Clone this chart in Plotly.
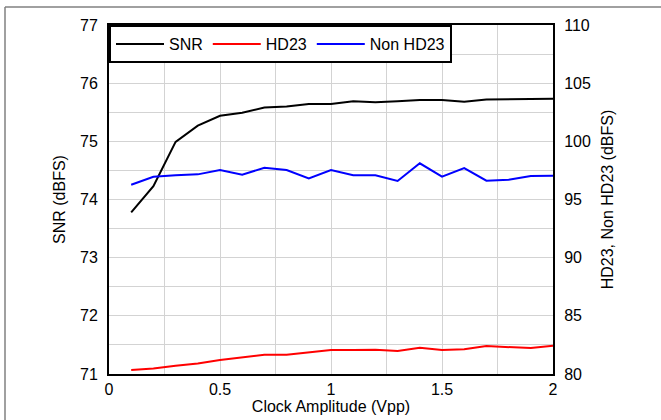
import plotly.graph_objects as go

clock_vpp = [0.1, 0.2, 0.3, 0.4, 0.5, 0.6, 0.7, 0.8, 0.9, 1.0,
             1.1, 1.2, 1.3, 1.4, 1.5, 1.6, 1.7, 1.8, 1.9, 2.0]
snr = [73.78, 74.23, 74.99, 75.27, 75.44, 75.49, 75.58, 75.60, 75.64, 75.64,
       75.69, 75.67, 75.69, 75.71, 75.71, 75.68, 75.72, 75.72, 75.73, 75.73]
hd23 = [80.34, 80.48, 80.70, 80.90, 81.20, 81.43, 81.65, 81.65, 81.86, 82.06,
        82.06, 82.09, 81.97, 82.25, 82.06, 82.12, 82.40, 82.34, 82.23, 82.43]
non_hd23 = [96.27, 96.96, 97.08, 97.16, 97.53, 97.13, 97.73, 97.53, 96.82, 97.53,
            97.08, 97.08, 96.59, 98.11, 96.96, 97.70, 96.62, 96.70, 97.02, 97.05]

# grid positions, labels only on every other line
x_grid = [0, 0.25, 0.5, 0.75, 1, 1.25, 1.5, 1.75, 2]
x_labels = ["0", "", "0.5", "", "1", "", "1.5", "", "2"]
snr_grid = [71, 71.5, 72, 72.5, 73, 73.5, 74, 74.5, 75, 75.5, 76, 76.5, 77]
snr_labels = ["71", "", "72", "", "73", "", "74", "", "75", "", "76", "", "77"]
hd_ticks = [80, 85, 90, 95, 100, 105, 110]

font = "Liberation Sans, Arial, sans-serif"
grid = "#d3d3d3"

fig = go.Figure()
fig.add_trace(go.Scatter(x=clock_vpp, y=snr, mode="lines", name="SNR",
                         line=dict(color="black", width=2)))
fig.add_trace(go.Scatter(x=clock_vpp, y=hd23, mode="lines", name="HD23",
                         line=dict(color="#ff0000", width=2), yaxis="y2"))
fig.add_trace(go.Scatter(x=clock_vpp, y=non_hd23, mode="lines", name="Non HD23",
                         line=dict(color="#0000ff", width=2), yaxis="y2"))

fig.update_layout(
    width=661, height=420,
    margin=dict(l=109, r=108, t=25, b=46),
    paper_bgcolor="white", plot_bgcolor="white",
    font=dict(family=font, size=16, color="black"),
    showlegend=True,
    legend=dict(orientation="h", x=0, y=1, xanchor="left", yanchor="top",
                bgcolor="white", bordercolor="black", borderwidth=2,
                font=dict(size=16), itemwidth=48, tracegroupgap=0),
    xaxis=dict(range=[0, 2], tickmode="array", tickvals=x_grid, ticktext=x_labels,
               showgrid=True, gridcolor=grid, gridwidth=1,
               showline=True, linecolor="black", linewidth=2, mirror=True,
               ticks="", zeroline=False, automargin=False,
               title=dict(text="Clock Amplitude (Vpp)", standoff=1, font=dict(size=16))),
    yaxis=dict(range=[71, 77], tickmode="array", tickvals=snr_grid, ticktext=snr_labels,
               showgrid=True, gridcolor=grid, gridwidth=1,
               showline=True, linecolor="black", linewidth=2, mirror=True,
               ticks="", zeroline=False, ticklabelstandoff=6, automargin=False,
               title=dict(text="SNR (dBFS)", standoff=10, font=dict(size=16))),
    yaxis2=dict(range=[80, 110], tickmode="array", tickvals=hd_ticks, overlaying="y", side="right",
                showgrid=False, showline=True, linecolor="black", linewidth=2,
                ticks="", zeroline=False, ticklabelstandoff=6, automargin=False,
                title=dict(text="HD23, Non HD23 (dBFS)", standoff=12, font=dict(size=16))),
)

# partial frame around the figure (left and top edges)
fig.add_shape(type="line", xref="paper", yref="paper",
              x0=(5 - 109) / 444, x1=(5 - 109) / 444, y0=(374 - 7) / 349, y1=(374 - 425) / 349,
              line=dict(color="#808080", width=1.5))
fig.add_shape(type="line", xref="paper", yref="paper",
              x0=(5 - 109) / 444, x1=(670 - 109) / 444, y0=(374 - 7) / 349, y1=(374 - 7) / 349,
              line=dict(color="#808080", width=1.5))

# drop the default 8px page margin so the figure sits at the window corner
fig.write_html("out.html", config={"displayModeBar": False},
               post_script="document.body.style.margin='0';")
